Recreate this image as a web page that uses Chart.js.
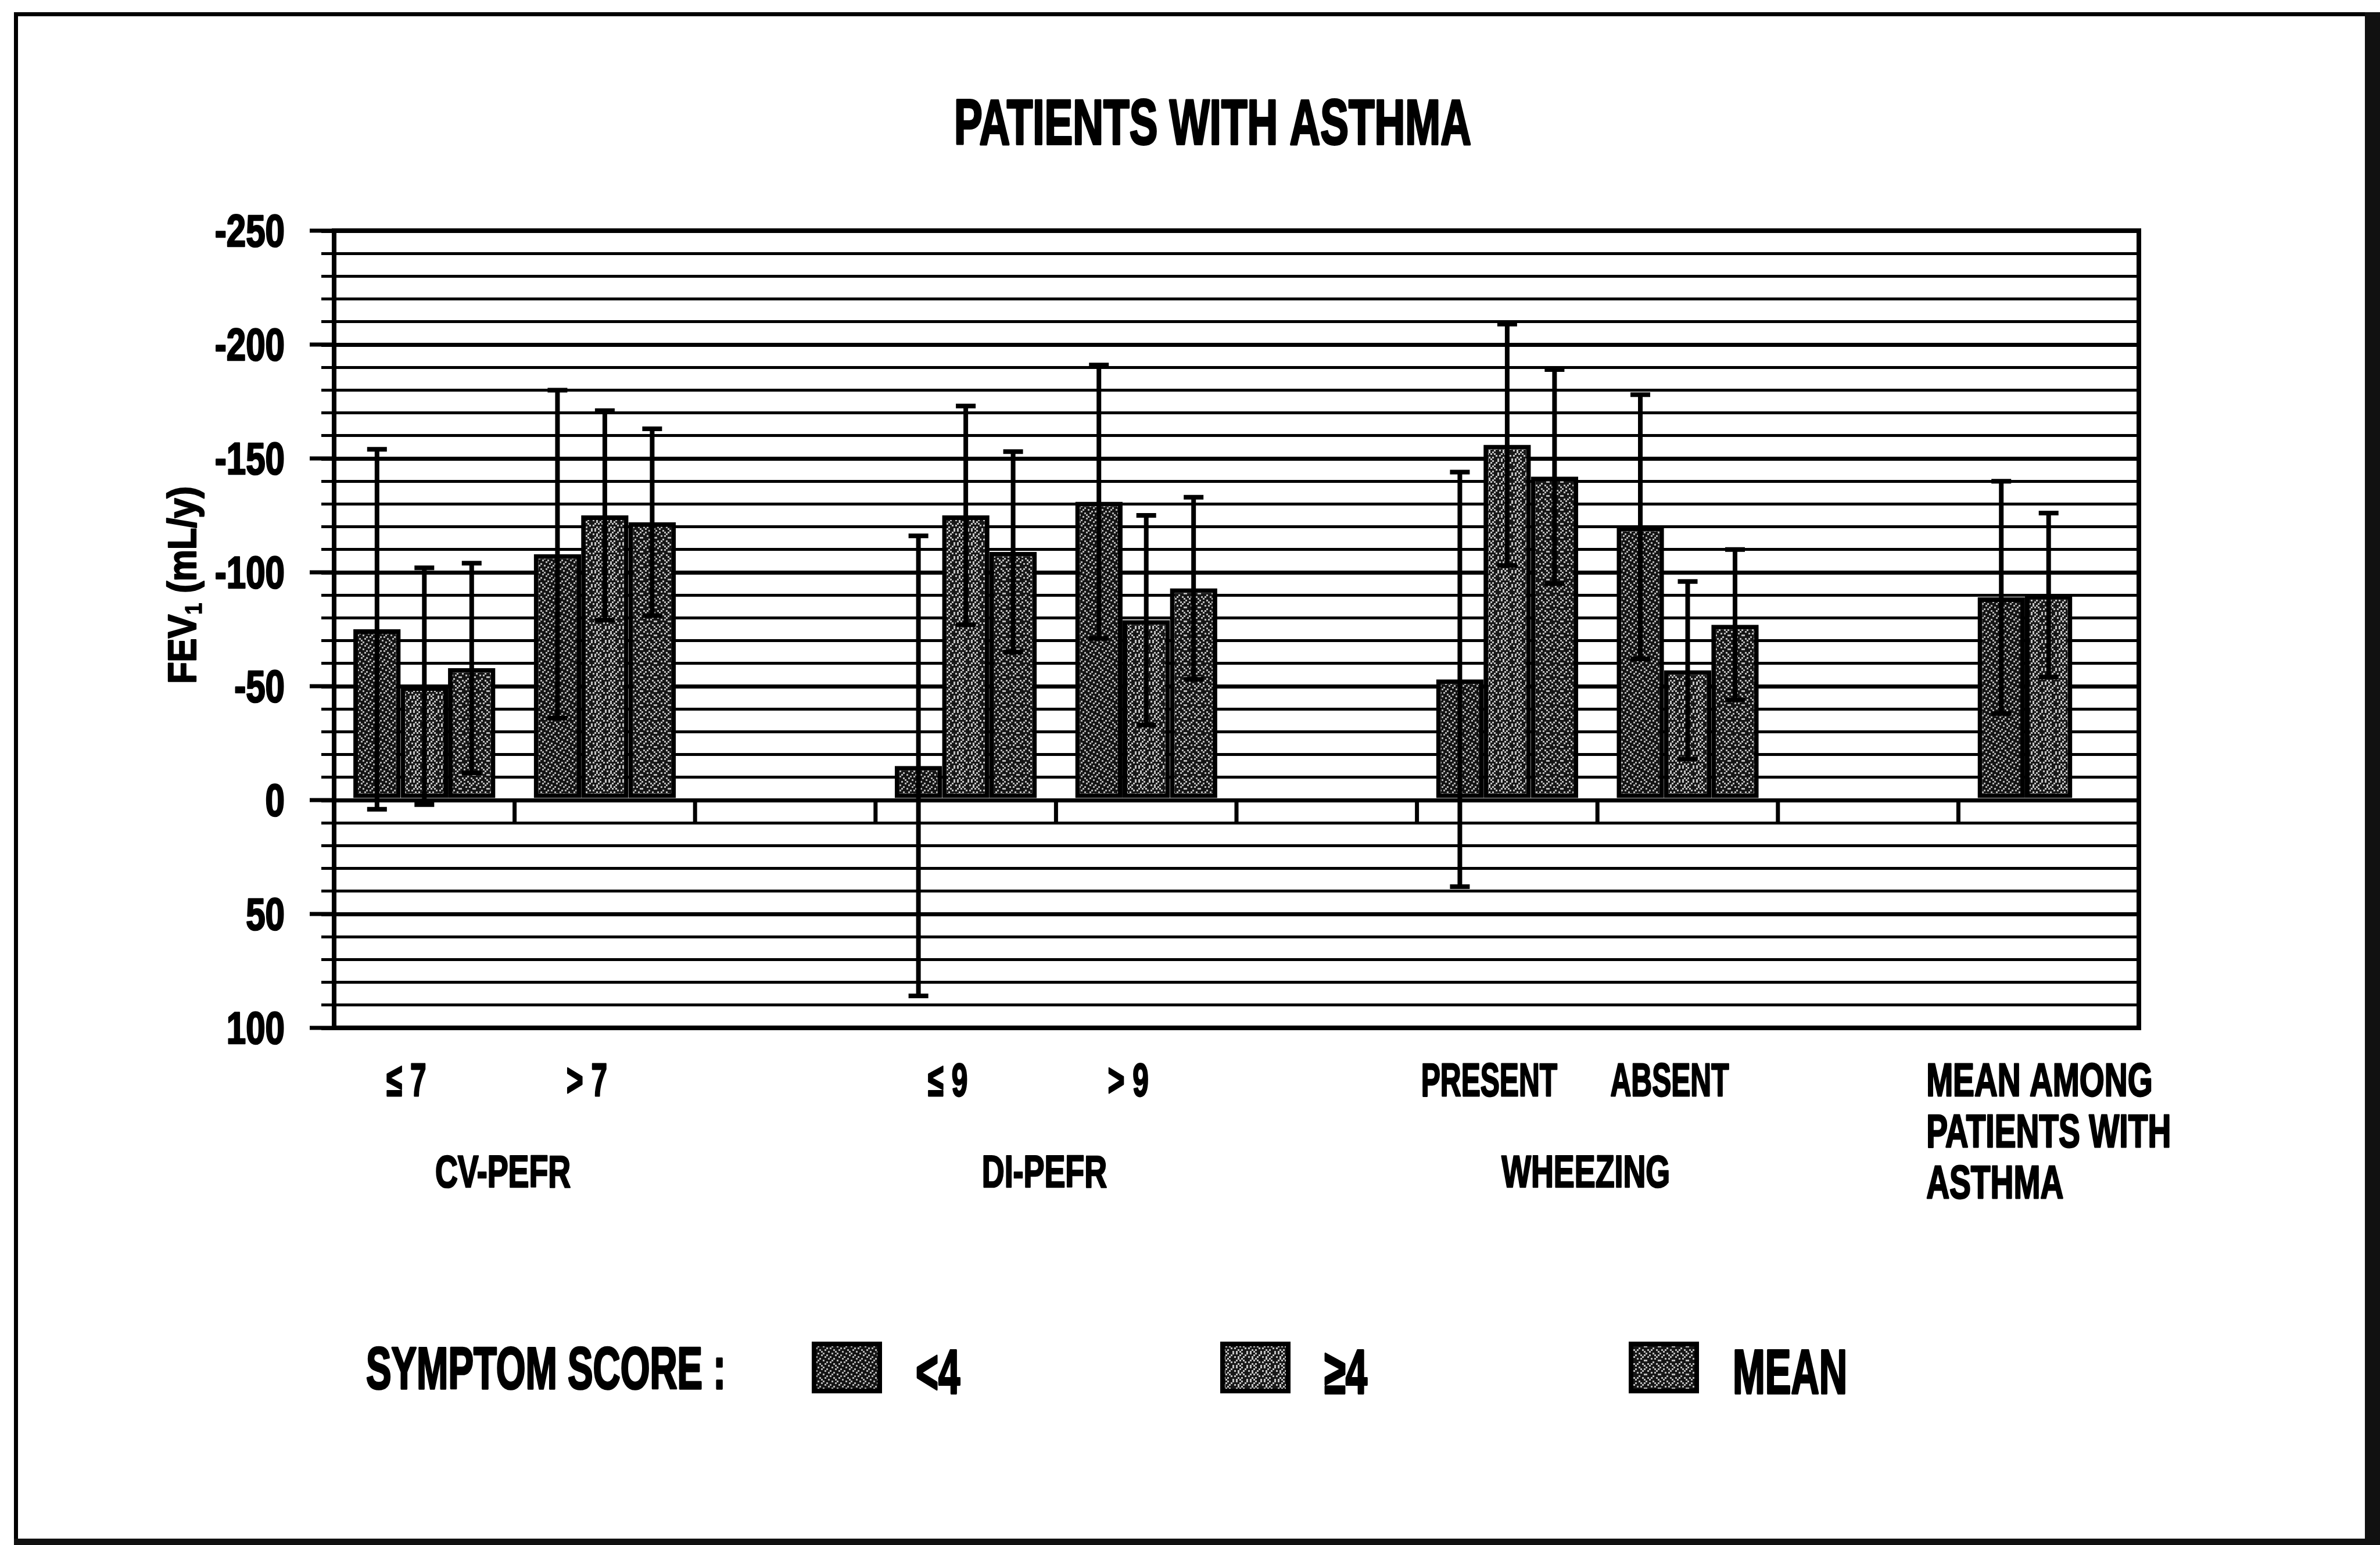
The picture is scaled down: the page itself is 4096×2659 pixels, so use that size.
<!DOCTYPE html>
<html>
<head>
<meta charset="utf-8">
<title>Patients with asthma</title>
<script src="https://cdn.jsdelivr.net/npm/chart.js"></script>
<style>
  html, body { margin: 0; padding: 0; background: #fff; }
  #wrap { width: 4096px; height: 2659px; position: relative; }
</style>
</head>
<body>
<div id="wrap"><canvas id="fevChart"></canvas></div>
<script>
// categories along the x axis (empty strings are the gaps between groups)
const categories = ['≤ 7', '> 7', '', '≤ 9', '> 9', '', 'PRESENT', 'ABSENT', '', ['MEAN AMONG', 'PATIENTS WITH', 'ASTHMA']];
// second level labels and the categories they cover
const groupLabels = ['CV-PEFR', 'DI-PEFR', 'WHEEZING'];
const groupSpans = [[0, 1], [3, 4], [6, 7]];

// symptom score series
const seriesNames = ['<4', '≥4', 'MEAN'];
const lowScore = [-75, -108, null, -15, -131, null, -53, -120, null, -89];
const highScore = [-50, -125, null, -125, -79, null, -156, -57, null, -90];
const meanScore = [-58, -122, null, -109, -93, null, -142, -77, null, null];

// error bar half widths
const lowScoreErr = [79, 72, null, 101, 60, null, 91, 58, null, 51];
const highScoreErr = [52, 46, null, 48, 46, null, 53, 39, null, 36];
const meanScoreErr = [46, 41, null, 44, 40, null, 47, 33, null, null];

// labelled y ticks
const yTicks = [-250, -200, -150, -100, -50, 0, 50, 100];

const chartTitle = 'PATIENTS WITH ASTHMA';
const legendTitle = 'SYMPTOM SCORE :';

const FONT = '"Liberation Sans", Arial, sans-serif';
const canvas = document.getElementById('fevChart');
const ctx0 = canvas.getContext('2d');

// speckled halftone fills, like the printed bars
function makePattern (rows, light, dark, px) {
    const tile = document.createElement('canvas');
    tile.width = rows[0].length * px;
    tile.height = rows.length * px;
    const g = tile.getContext('2d');
    g.fillStyle = dark;
    g.fillRect(0, 0, tile.width, tile.height);
    g.fillStyle = light;
    rows.forEach(function (r, j) {
        for (let i = 0; i < r.length; i++) {
            if (r[i] === '1') g.fillRect(i * px, j * px, px, px);
        }
    });
    return ctx0.createPattern(tile, 'repeat');
}

const fills = [
    makePattern(['10000100', '00100001', '01001000', '00010010', '10000100', '00101000', '01000010', '00010001'], '#b4b4b4', '#141414', 3),
    makePattern(['10010100', '00100001', '01001010', '10000010', '01000101', '00101000', '10000010', '00010101'], '#c4c4c4', '#181818', 3),
    makePattern(['10001000', '00100101', '01000010', '00010100', '10000001', '00001000', '01010010', '00100001'], '#bcbcbc', '#161616', 3)
];

// draw condensed bold text
function drawText (ctx, s, x, y, size, sx, align) {
    ctx.save();
    ctx.font = 'bold ' + size + 'px ' + FONT;
    const w = ctx.measureText(s).width * sx;
    const x0 = align === 'center' ? x - w / 2 : (align === 'right' ? x - w : x);
    ctx.translate(x0, y);
    ctx.scale(sx, 1);
    ctx.textAlign = 'left';
    ctx.textBaseline = 'alphabetic';
    ctx.fillStyle = '#000';
    ctx.strokeStyle = '#000';
    ctx.lineWidth = size * 0.035;
    ctx.lineJoin = 'round';
    ctx.fillText(s, 0, 0);
    ctx.strokeText(s, 0, 0);
    ctx.restore();
    return w;
}
function textWidth (ctx, s, size, sx) {
    ctx.save();
    ctx.font = 'bold ' + size + 'px ' + FONT;
    const w = ctx.measureText(s).width * sx;
    ctx.restore();
    return w;
}

const errorSets = [lowScoreErr, highScoreErr, meanScoreErr];

// frame, plot box, extra tick marks
const framePlugin = {
    id: 'frame',
    beforeDraw: function (chart) {
        const ctx = chart.ctx;
        ctx.save();
        ctx.fillStyle = '#fff';
        ctx.fillRect(0, 0, chart.width, chart.height);
        ctx.fillStyle = '#000';
        ctx.fillRect(24, 21, 7, 2630);
        ctx.fillRect(24, 21, 4050, 7);
        ctx.fillStyle = '#111';
        ctx.fillRect(4070, 21, 26, 2638);
        ctx.fillRect(24, 2648, 4072, 11);
        ctx.restore();
    },
    beforeDatasetsDraw: function (chart) {
        const ctx = chart.ctx;
        const a = chart.chartArea;
        const x = chart.scales.x;
        const y = chart.scales.y;
        ctx.save();
        ctx.strokeStyle = '#000';
        ctx.lineWidth = 8;
        ctx.strokeRect(a.left, a.top, a.right - a.left, a.bottom - a.top);
        // longer ticks at labelled values
        ctx.lineWidth = 7;
        yTicks.forEach(function (v) {
            const py = y.getPixelForValue(v);
            ctx.beginPath();
            ctx.moveTo(a.left - 42, py);
            ctx.lineTo(a.left, py);
            ctx.stroke();
        });
        // category separators hanging from the zero line
        const y0 = y.getPixelForValue(0);
        const y1 = y.getPixelForValue(10);
        for (let i = 0; i < categories.length - 1; i++) {
            const px = (x.getPixelForValue(i) + x.getPixelForValue(i + 1)) / 2;
            ctx.beginPath();
            ctx.moveTo(px, y0);
            ctx.lineTo(px, y1);
            ctx.stroke();
        }
        ctx.restore();
    },
    afterDatasetsDraw: function (chart) {
        const ctx = chart.ctx;
        const y = chart.scales.y;
        ctx.save();
        ctx.strokeStyle = '#000';
        ctx.lineWidth = 8;
        chart.data.datasets.forEach(function (ds, di) {
            const meta = chart.getDatasetMeta(di);
            meta.data.forEach(function (bar, i) {
                const v = ds.data[i];
                const e = errorSets[di][i];
                if (v === null || e === null) return;
                const yTop = y.getPixelForValue(v - e);
                const yBot = y.getPixelForValue(v + e);
                ctx.beginPath();
                ctx.moveTo(bar.x, yTop);
                ctx.lineTo(bar.x, yBot);
                ctx.moveTo(bar.x - 17, yTop);
                ctx.lineTo(bar.x + 17, yTop);
                ctx.moveTo(bar.x - 17, yBot);
                ctx.lineTo(bar.x + 17, yBot);
                ctx.stroke();
            });
        });
        ctx.restore();
    },
    afterDraw: function (chart) {
        const ctx = chart.ctx;
        const x = chart.scales.x;
        const y = chart.scales.y;

        // title
        drawText(ctx, chartTitle, 2087, 248, 109, 0.67, 'center');

        // y tick labels
        yTicks.forEach(function (v) {
            drawText(ctx, String(v), 490, y.getPixelForValue(v) + 27, 77, 0.78, 'right');
        });

        // y axis title, FEV with subscript 1
        ctx.save();
        ctx.translate(313, 1007);
        ctx.rotate(-Math.PI / 2);
        const s1 = 'FEV';
        const s2 = '1';
        const s3 = ' (mL/y)';
        const w1 = textWidth(ctx, s1, 68, 0.9);
        const w2 = textWidth(ctx, s2, 40, 0.9);
        const w3 = textWidth(ctx, s3, 68, 0.9);
        let cx = -(w1 + w2 + w3) / 2;
        drawText(ctx, s1, cx, 24, 68, 0.9, 'left');
        cx += w1;
        drawText(ctx, s2, cx, 34, 40, 0.9, 'left');
        cx += w2;
        drawText(ctx, s3, cx, 24, 68, 0.9, 'left');
        ctx.restore();

        // category labels
        categories.forEach(function (lab, i) {
            const px = x.getPixelForValue(i);
            if (Array.isArray(lab)) {
                let maxW = 0;
                lab.forEach(function (l) { maxW = Math.max(maxW, textWidth(ctx, l, 80, 0.69)); });
                lab.forEach(function (l, k) {
                    drawText(ctx, l, px - maxW / 2, 1886 + k * 88, 80, 0.69, 'left');
                });
            } else if (lab) {
                drawText(ctx, lab, px - 31, 1886, 80, 0.62, 'center');
            }
        });

        // group labels
        groupLabels.forEach(function (g, k) {
            const span = groupSpans[k];
            const px = (x.getPixelForValue(span[0]) + x.getPixelForValue(span[1])) / 2;
            drawText(ctx, g, px - 20, 2043, 78, 0.69, 'center');
        });

        // legend
        drawText(ctx, legendTitle, 630, 2390, 102, 0.64, 'left');
        chart.data.datasets.forEach(function (ds, di) {
            const bx = 1397 + di * 703;
            ctx.save();
            ctx.fillStyle = ds.backgroundColor;
            ctx.fillRect(bx, 2309, 121, 89);
            ctx.strokeStyle = '#000';
            ctx.lineWidth = 8;
            ctx.strokeRect(bx + 4, 2313, 113, 81);
            ctx.restore();
            drawText(ctx, ds.label, bx + 121 + 58, 2398, 108, 0.62, 'left');
        });
    }
};

const data = {
    labels: categories,
    datasets: [lowScore, highScore, meanScore].map(function (vals, di) {
        return {
            label: seriesNames[di],
            data: vals,
            backgroundColor: fills[di],
            borderColor: '#000',
            borderWidth: 8,
            borderSkipped: false,
            barPercentage: 1,
            categoryPercentage: 0.787
        };
    })
};

const config = {
    type: 'bar',
    data: data,
    plugins: [framePlugin],
    options: {
        responsive: true,
        maintainAspectRatio: false,
        devicePixelRatio: 1,
        animation: false,
        layout: {
            padding: { left: 0, right: 415, top: 397, bottom: 890 }
        },
        plugins: {
            legend: { display: false },
            title: { display: false },
            tooltip: { enabled: false }
        },
        scales: {
            x: {
                grid: { display: false },
                border: { display: false },
                ticks: { display: false },
                afterFit: function (s) { s.height = 0; }
            },
            y: {
                reverse: true,
                min: -250,
                max: 100,
                border: { display: false },
                ticks: { display: false, stepSize: 10 },
                grid: {
                    color: '#000',
                    lineWidth: function (c) { return c.tick && c.tick.value % 50 === 0 ? 7 : 5; },
                    drawTicks: true,
                    tickLength: 22
                },
                afterFit: function (s) { s.width = 575; }
            }
        }
    }
};

const myChart = new Chart(canvas, config);
</script>
</body>
</html>
